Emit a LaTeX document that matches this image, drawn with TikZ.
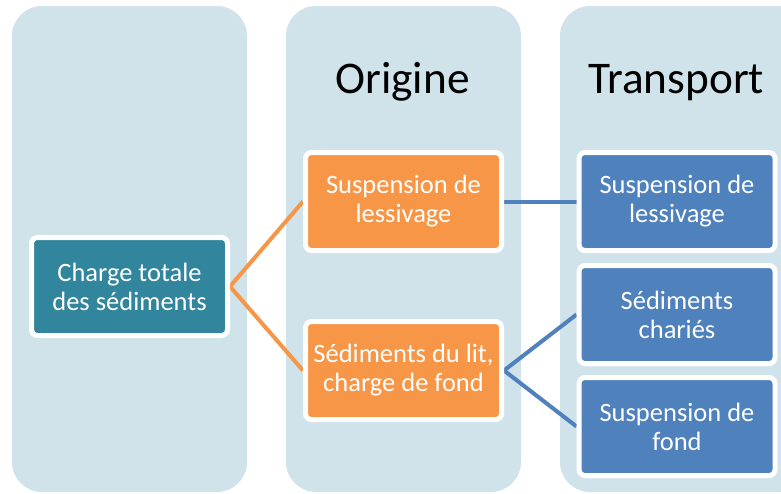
\documentclass[tikz,border=0pt]{standalone}
\usepackage{fontspec}
\setmainfont{Carlito}
\definecolor{colbg}{HTML}{D0E3EA}
\definecolor{tealbox}{HTML}{31859C}
\definecolor{orangebox}{HTML}{F79646}
\definecolor{bluebox}{HTML}{4F81BD}
\pgfdeclarelayer{bglayer}
\pgfdeclarelayer{linklayer}
\pgfsetlayers{bglayer,linklayer,main}
\tikzset{
  column/.style={fill=colbg, rounded corners=30pt},
  itembox/.style={draw=white, line width=5pt, rounded corners=6pt,
    minimum width=196pt, minimum height=98pt, inner sep=0pt,
    align=center, text=white, font=\fontsize{26.5}{29}\selectfont},
  tealnode/.style={itembox, fill=tealbox},
  orangenode/.style={itembox, fill=orangebox},
  bluenode/.style={itembox, fill=bluebox},
  title/.style={anchor=base, font=\fontsize{45.3}{50}\selectfont, text=black},
  orangelink/.style={draw=orangebox, line width=4pt},
  bluelink/.style={draw=bluebox, line width=4pt}
}
\begin{document}
\begin{tikzpicture}[x=1pt, y=-1pt]
  \useasboundingbox (0,0) rectangle (781,493);
  \clip (0,0) rectangle (781,493);
  \begin{pgfonlayer}{bglayer}
    \fill[white] (0,0) rectangle (781,493);
    \path[column] (12,6) rectangle (247,492);
    \path[column] (286,6) rectangle (521,492);
    \path[column] (560,6) rectangle (810,492);
  \end{pgfonlayer}
  % titles
  \node[title] (torig) at (402.5,93) {Origine};
  \node[title] (ttrans) at (676,93) {Transport};
  % boxes
  \node[tealnode] (total) at (129.5,286.5) {Charge totale\\des sédiments};
  \node[orangenode] (olessi) at (403.5,201.5) {Suspension de\\lessivage};
  \node[orangenode] (ofond) at (403.5,370.5) {Sédiments du lit,\\charge de fond};
  \node[bluenode] (blessi) at (677,201.5) {Suspension de\\lessivage};
  \node[bluenode] (bchar) at (677,314.5) {Sédiments\\chariés};
  \node[bluenode] (bfond) at (677,426.5) {Suspension de\\fond};
  % links
  \begin{pgfonlayer}{linklayer}
    \draw[orangelink] (total.east) -- (olessi.west);
    \draw[orangelink] (total.east) -- (ofond.west);
    \draw[bluelink] (olessi.east) -- (blessi.west);
    \draw[bluelink] (ofond.east) -- (bchar.west);
    \draw[bluelink] (ofond.east) -- (bfond.west);
  \end{pgfonlayer}
\end{tikzpicture}
\end{document}
